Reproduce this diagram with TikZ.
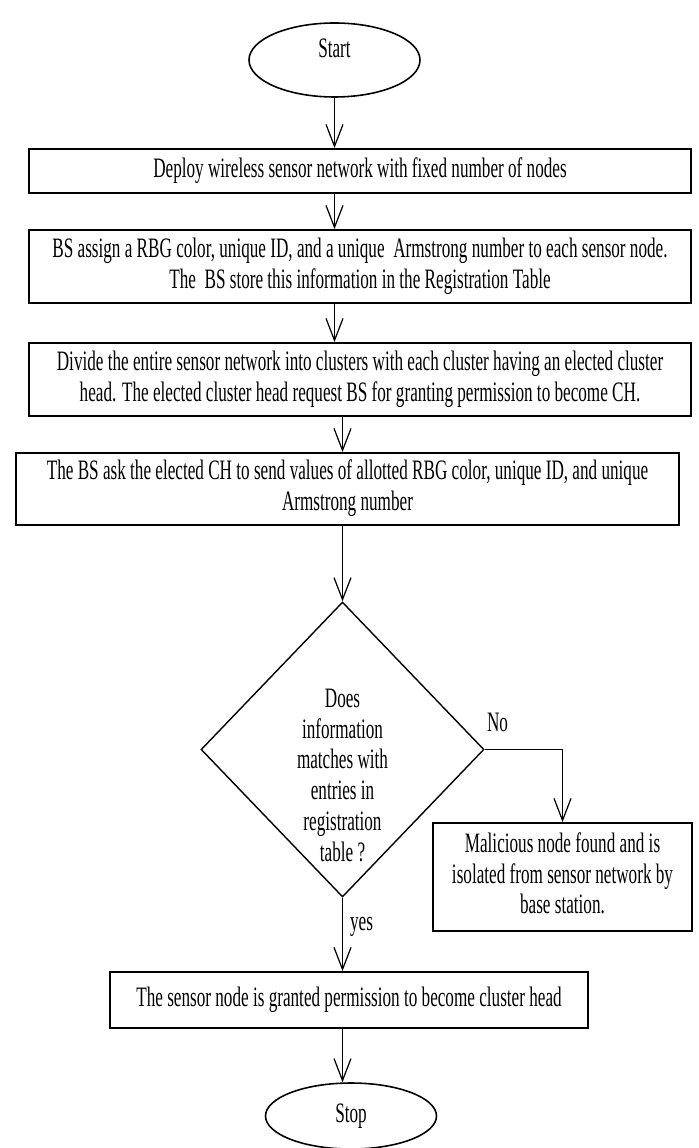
\documentclass[tikz,border=0pt]{standalone}
\usepackage{fontspec}
\setmainfont{Liberation Serif}
\usepackage{graphicx}
\usepackage{tikz}
\usetikzlibrary{arrows.meta,shapes,positioning}
\newcommand{\sqz}[1]{\scalebox{0.61}[1]{#1}}
\newcommand{\sqzlines}[1]{\scalebox{0.61}[1]{\begin{tabular}{@{}c@{}}#1\end{tabular}}}
\tikzstyle{startstop} = [ellipse, draw, line width=0.9pt, minimum width=3.42cm, minimum height=1.48cm, inner sep=0pt]
\tikzstyle{process} = [rectangle, draw, line width=1pt, minimum width=13.24cm, minimum height=1.46cm, inner sep=0pt, text centered]
\tikzstyle{decision} = [diamond, draw, line width=0.8pt, minimum width=5.66cm, minimum height=5.9cm, inner sep=0pt]
\tikzstyle{arrow} = [line width=0.7pt, -{Straight Barb[length=4.4mm, width=3.4mm]}]

\begin{document}
\begin{tikzpicture}[font=\fontsize{16}{17.5}\selectfont]
\useasboundingbox (0,0) rectangle (13.98,-22.96);
% Steps
\node (start) [startstop, text depth=0.48cm] at (6.69,-1.2) {\sqz{Start}};

\node (step1) [process, node distance=2.22cm, below of=start, xshift=0.51cm, minimum height=0.88cm] {
\sqz{Deploy wireless sensor network with fixed number of nodes}
};

\node (step2) [process, node distance=1.91cm, below of=step1] {
\sqzlines{BS assign a RBG color, unique ID, and a unique\ \ Armstrong number to each sensor node.\\
The\ \ BS store this information in the Registration Table}
};

\node (step3) [process, node distance=2.26cm, below of=step2] {
\sqzlines{Divide the entire sensor network into clusters with each cluster having an elected cluster\\
head. The elected cluster head request BS for granting permission to become CH.}
};

\node (step4) [process, node distance=2.19cm, below of=step3, xshift=-0.25cm, minimum width=13.26cm, minimum height=1.44cm] {
\sqzlines{The BS ask the elected CH to send values of allotted RBG color, unique ID, and unique\\
Armstrong number}
};

\node (check) [decision, node distance=5.21cm, below of=step4, xshift=-0.1cm,
  label={[yshift=-0.57cm]center:\sqzlines{Does\\information\\matches with\\entries in\\registration\\table ?}}] {};

\node (malicious) [process, node distance=2.55cm, below of=check, xshift=4.4cm, minimum width=5.18cm, minimum height=2.16cm] {
\sqzlines{Malicious node found and is\\
isolated from sensor network by\\
base station.}
};

\node (step5) [process, node distance=5.01cm, below of=check, xshift=0.13cm, minimum width=9.56cm, minimum height=1.12cm] {
\sqz{The sensor node is granted permission to become cluster head}
};

\node (stop) [startstop, node distance=2.32cm, below of=step5, xshift=0.04cm, minimum height=1.32cm] {\sqz{Stop}};

% Arrows
\draw[arrow] (start.south) -- (start.south |- step1.north);
\draw[arrow] (step1.south -| start) -- (step2.north -| start);
\draw[arrow] (step2.south -| start) -- (step3.north -| start);
\draw[arrow] (step3.south -| check) -- (step4.north -| check);
\draw[arrow] (step4.south -| check) -- (check.north);
\draw[arrow] (check.east) node[anchor=south west, inner sep=0pt, xshift=1pt, yshift=0.34cm] {\sqz{No}} -| (malicious.north);
\draw[arrow] (check.south) -- node[right, pos=0.4, inner sep=4pt] {\sqz{yes}} (step5.north -| check);
\draw[arrow] (step5.south -| check) -- (stop.north -| check);
\end{tikzpicture}
\end{document}
